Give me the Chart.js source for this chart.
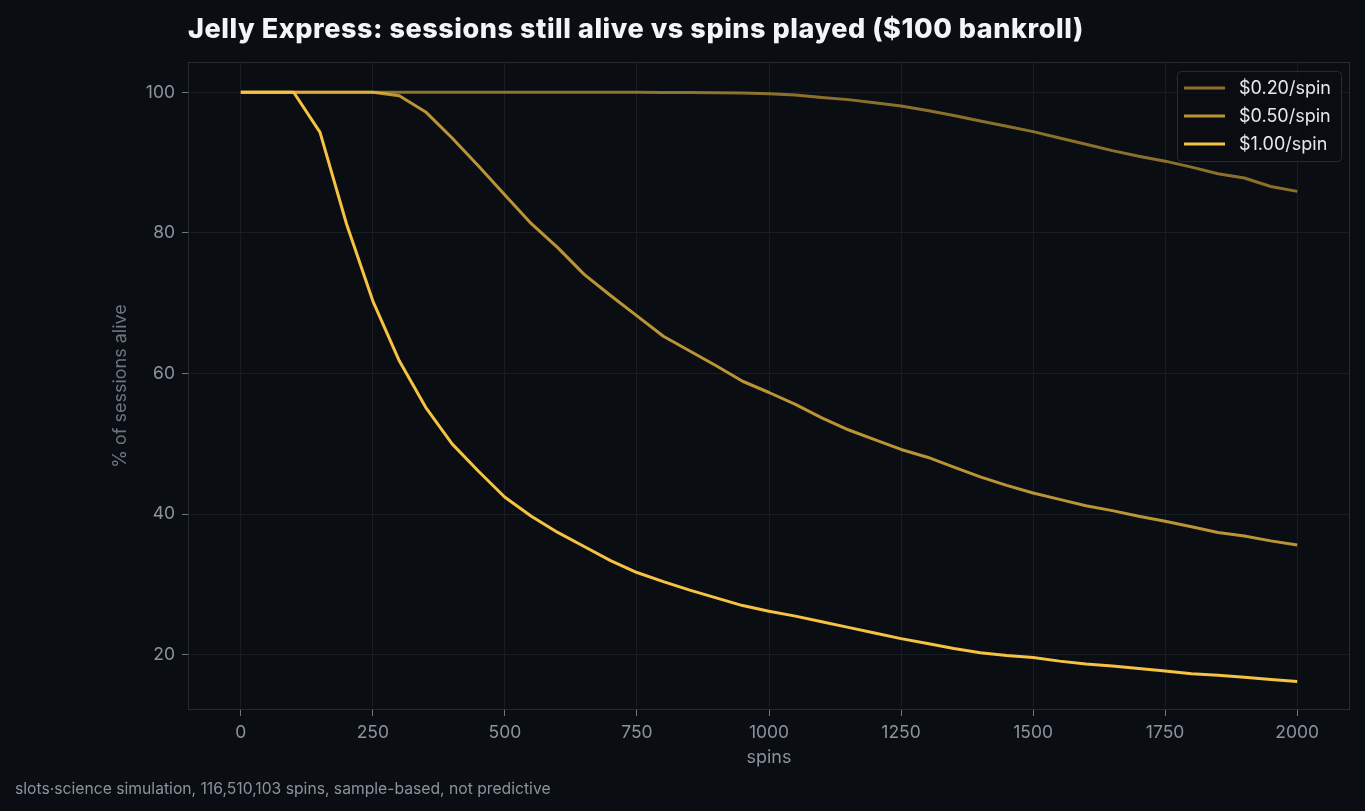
<!DOCTYPE html>
<html>
<head>
<meta charset="utf-8">
<script src="https://cdn.jsdelivr.net/npm/chart.js@4.4.1/dist/chart.umd.min.js"></script>
<style>
  html, body { margin: 0; padding: 0; background: #0a0d12; }
  #wrap { position: relative; width: 1365px; height: 811px; overflow: hidden; background: #0a0d12; }
  #title { position: absolute; left: 188px; top: 12px; font-family: Inter, sans-serif; font-weight: 800; font-size: 27px; color: #f2f4f7; letter-spacing: 0.55px; white-space: nowrap; }
  #foot { position: absolute; left: 15px; top: 779px; font-family: Inter, sans-serif; font-size: 15.7px; color: #8b949e; white-space: nowrap; }
  canvas { position: absolute; left: 0; top: 0; }
</style>
</head>
<body>
<div id="wrap">
  <canvas id="c" width="1365" height="811"></canvas>
  <div id="title">Jelly Express: sessions still alive vs spins played ($100 bankroll)</div>
  <div id="foot">slots·science simulation, 116,510,103 spins, sample-based, not predictive</div>
</div>
<script>
const spins = [0,50,100,150,200,250,300,350,400,450,500,550,600,650,700,750,800,850,900,950,1000,1050,1100,1150,1200,1250,1300,1350,1400,1450,1500,1550,1600,1650,1700,1750,1800,1850,1900,1950,2000];
const alive020 = [100,100,100,100,100,100,100,100,100,100,100,100,100,100,100,99.99,99.98,99.96,99.93,99.88,99.8,99.6,99.25,98.95,98.5,98.05,97.4,96.7,95.9,95.15,94.4,93.5,92.6,91.7,90.9,90.2,89.35,88.4,87.8,86.6,85.9];
const alive050 = [100,100,100,100,100,100,99.5,97.2,93.5,89.5,85.4,81.3,77.9,74.1,71.1,68.2,65.3,63.2,61.1,58.9,57.3,55.6,53.7,52.0,50.6,49.2,48.1,46.7,45.3,44.1,43.0,42.1,41.2,40.5,39.7,39.0,38.2,37.4,36.9,36.2,35.6];
const alive100 = [100,100,100,94.3,81.3,70.3,61.8,55.2,50.0,46.1,42.4,39.7,37.4,35.4,33.4,31.7,30.4,29.2,28.1,27.0,26.2,25.5,24.7,23.9,23.1,22.3,21.6,20.9,20.3,19.9,19.6,19.1,18.7,18.4,18.05,17.7,17.3,17.1,16.8,16.5,16.2];
const seriesLabels = ['$0.20/spin','$0.50/spin','$1.00/spin'];
const xTicks = [0,250,500,750,1000,1250,1500,1750,2000];
const yTicks = [20,40,60,80,100];

const colors = ['rgba(245,194,66,0.55)','rgba(245,194,66,0.75)','rgba(245,194,66,1)'];
const toPts = arr => spins.map((s,i)=>({x:s,y:arr[i]}));
const FONT = 'Inter, sans-serif';

const frame = {
  id: 'frame',
  beforeDatasetsDraw(chart) {
    const {ctx, chartArea:a} = chart;
    ctx.save();
    ctx.strokeStyle = '#262b33';
    ctx.lineWidth = 1;
    ctx.strokeRect(a.left+0.5, a.top+0.5, a.right-a.left-1, a.bottom-a.top-1);
    ctx.restore();
  },
  afterDraw(chart) {
    const {ctx, chartArea:a} = chart;
    const ds = chart.data.datasets;
    const x0 = a.right - 173, y0 = a.top + 9, w = 164, h = 90;
    ctx.save();
    ctx.fillStyle = 'rgba(10,13,18,0.85)';
    ctx.strokeStyle = '#262b33';
    ctx.lineWidth = 1;
    ctx.beginPath();
    if (ctx.roundRect) ctx.roundRect(x0+0.5, y0+0.5, w, h, 4); else ctx.rect(x0+0.5,y0+0.5,w,h);
    ctx.fill(); ctx.stroke();
    ctx.font = '18px ' + FONT;
    ctx.textBaseline = 'middle';
    ds.forEach((d,i)=>{
      const yy = y0 + 17 + i*28;
      ctx.strokeStyle = d.borderColor;
      ctx.lineWidth = 3;
      ctx.beginPath(); ctx.moveTo(x0+7, yy); ctx.lineTo(x0+48, yy); ctx.stroke();
      ctx.fillStyle = '#e6e8eb';
      ctx.fillText(d.label, x0+62, yy+1);
    });
    ctx.restore();
  }
};

new Chart(document.getElementById('c'), {
  type: 'line',
  data: {
    datasets: [
      {label: seriesLabels[0], data: toPts(alive020), borderColor: colors[0], order: 2},
      {label: seriesLabels[1], data: toPts(alive050), borderColor: colors[1], order: 1},
      {label: seriesLabels[2], data: toPts(alive100), borderColor: colors[2], order: 0}
    ]
  },
  options: {
    responsive: false,
    animation: false,
    layout: {padding: {left: 100, top: 62, right: 15, bottom: 40}},
    elements: {
      line: {borderWidth: 3, tension: 0, fill: false, borderJoinStyle: 'round'},
      point: {radius: 0, hoverRadius: 0}
    },
    plugins: {legend: {display: false}, tooltip: {enabled: false}},
    scales: {
      x: {
        type: 'linear', min: -100, max: 2100,
        afterBuildTicks: s => { s.ticks = xTicks.map(v=>({value:v})); },
        afterFit: s => { s.height = 61; },
        grid: {color: '#181c23', tickColor: '#6e7681', tickLength: 6, drawOnChartArea: true},
        border: {display: false},
        ticks: {color: '#8b949e', font: {family: FONT, size: 17.5}, padding: 6, maxRotation: 0, callback: v => String(v)},
        title: {display: true, text: 'spins', color: '#8b949e', font: {family: FONT, size: 18}, padding: {top: 0, bottom: 3}}
      },
      y: {
        type: 'linear', min: 12.15, max: 104.3,
        afterBuildTicks: s => { s.ticks = yTicks.map(v=>({value:v})); },
        afterFit: s => { s.width = 88; },
        grid: {color: '#181c23', tickColor: '#6e7681', tickLength: 6},
        border: {display: false},
        ticks: {color: '#8b949e', font: {family: FONT, size: 17.5}, padding: 7, callback: v => String(v)},
        title: {display: true, text: '% of sessions alive', color: '#6e7681', font: {family: FONT, size: 18}, padding: {top: 10, bottom: 0}}
      }
    }
  },
  plugins: [frame]
});
</script>
</body>
</html>
